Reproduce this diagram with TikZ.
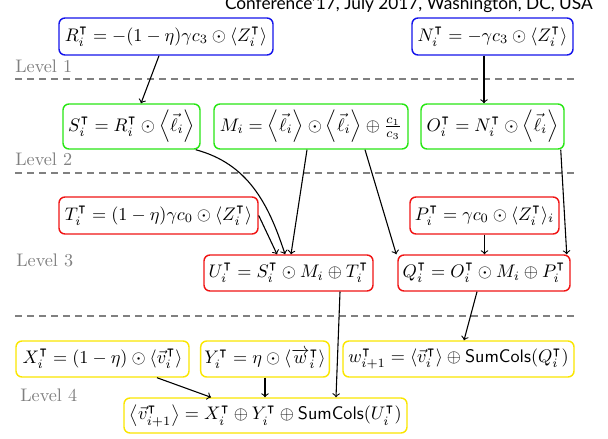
\documentclass[tikz,border=0pt]{standalone}
\usepackage{amsmath,amssymb}
\usepackage{fontspec}
\newfontfamily\hdrfont{Lato}
\usetikzlibrary{calc}
\newcommand{\pxu}{0.55pt}
\definecolor{lvlgrey}{RGB}{128,128,128}
\definecolor{boxblue}{RGB}{20,20,235}
\definecolor{boxgreen}{RGB}{40,230,20}
\definecolor{boxred}{RGB}{240,20,20}
\definecolor{boxyellow}{RGB}{250,230,0}
\tikzset{
  eqbox/.style={rectangle, rounded corners=3.3pt, draw=#1, fill=white, line width=0.8pt, inner sep=2pt},
  lvl/.style={font=\normalsize, text=lvlgrey, inner sep=0pt, anchor=west},
  sep/.style={draw=lvlgrey, line width=1pt, dash pattern=on 4pt off 2.6pt},
  arr/.style={->, line width=0.6pt, draw=black},
  hdr/.style={font=\hdrfont\fontsize{9.5}{11}\selectfont, inner sep=0pt},
}
\begin{document}
\begin{tikzpicture}[x=\pxu,y=-\pxu]
  \useasboundingbox (0,0) rectangle (608,438);
  \node[hdr,anchor=base east] (conf) at (593,10) {Conference’17, July 2017, Washington, DC, USA};
  % level 1
  \node[eqbox=boxblue,minimum width=214*\pxu,minimum height=37*\pxu] (R) at (166,36.5) {$R_i^{\intercal} = -(1-\eta)\gamma c_3 \odot \langle Z_i^{\intercal} \rangle$};
  \node[eqbox=boxblue,minimum width=161*\pxu,minimum height=37*\pxu] (N) at (492.5,36.5) {$N_i^{\intercal} = -\gamma c_3 \odot \langle Z_i^{\intercal} \rangle$};
  \node[lvl] (lv1) at (15,66) {Level 1};
  \draw[sep] (15,79) -- (577,79);
  % level 2
  \node[eqbox=boxgreen,minimum width=137*\pxu,minimum height=45*\pxu] (S) at (131.5,126.5) {$S_i^{\intercal} = R_i^{\intercal} \odot \left\langle \vec{\ell}_i \right\rangle$};
  \node[eqbox=boxgreen,minimum width=194*\pxu,minimum height=45*\pxu] (M) at (311,126.5) {$M_i = \left\langle \vec{\ell}_i \right\rangle \odot \left\langle \vec{\ell}_i \right\rangle \oplus \frac{c_1}{c_3}$};
  \node[eqbox=boxgreen,minimum width=143*\pxu,minimum height=45*\pxu] (O) at (492.5,126.5) {$O_i^{\intercal} = N_i^{\intercal} \odot \left\langle \vec{\ell}_i \right\rangle$};
  \node[lvl] (lv2) at (15,159.5) {Level 2};
  \draw[sep] (15,173) -- (577,173);
  % level 3
  \node[eqbox=boxred,minimum width=199*\pxu,minimum height=37*\pxu] (T) at (158.5,215.5) {$T_i^{\intercal} = (1-\eta)\gamma c_0 \odot \langle Z_i^{\intercal} \rangle$};
  \node[eqbox=boxred,minimum width=149*\pxu,minimum height=37*\pxu] (P) at (484.5,215.5) {$P_i^{\intercal} = \gamma c_0 \odot \langle Z_i^{\intercal} \rangle_i$};
  \node[eqbox=boxred,minimum width=169*\pxu,minimum height=36*\pxu] (U) at (288.5,273) {$U_i^{\intercal} = S_i^{\intercal} \odot M_i \oplus T_i^{\intercal}$};
  \node[eqbox=boxred,minimum width=172*\pxu,minimum height=36*\pxu] (Q) at (484,273) {$Q_i^{\intercal} = O_i^{\intercal} \odot M_i \oplus P_i^{\intercal}$};
  \node[lvl] (lv3) at (16,260) {Level 3};
  \draw[sep] (15,316) -- (577,316);
  % level 4
  \node[eqbox=boxyellow,minimum width=173*\pxu,minimum height=36*\pxu] (X) at (102.5,359) {$X_i^{\intercal} = (1-\eta) \odot \langle \vec{v}_i^{\intercal} \rangle$};
  \node[eqbox=boxyellow,minimum width=128*\pxu,minimum height=36*\pxu] (Y) at (265,359) {$Y_i^{\intercal} = \eta \odot \langle \overrightarrow{w}_i^{\intercal} \rangle$};
  \node[eqbox=boxyellow,minimum width=231*\pxu,minimum height=36*\pxu] (W) at (458.5,359) {$w_{i+1}^{\intercal} = \langle \vec{v}_i^{\intercal} \rangle \oplus \mathsf{SumCols}(Q_i^{\intercal})$};
  \node[eqbox=boxyellow,minimum width=283*\pxu,minimum height=35*\pxu] (V) at (265.5,415.5) {$\left\langle \vec{v}_{i+1}^{\intercal} \right\rangle = X_i^{\intercal} \oplus Y_i^{\intercal} \oplus \mathsf{SumCols}(U_i^{\intercal})$};
  \node[lvl] (lv4) at (20,395.5) {Level 4};
  % connectors
  \draw[arr] ($(R.south)+(-7,0)$) -- ($(S.north)+(9.5,0)$);
  \draw[arr] ($(N.south)+(-8.5,0)$) -- ($(O.north)+(-8.5,0)$);
  \draw[arr] ($(S.south east)+(-5,0)$) to[out=-15,in=108] ($(U.north)+(-3.5,0)$);
  \draw[arr] ($(M.south)+(-4,0)$) -- ($(U.north)+(2.5,0)$);
  \draw[arr] ($(M.south)+(54,0)$) -- ($(Q.north west)+(-1,0)$);
  \draw[arr] (T.east) -- ($(U.north)+(-11.5,0)$);
  \draw[arr] ($(O.south east)+(-4,0)$) -- ($(Q.north east)+(-4,0)$);
  \draw[arr] (P.south) -- (P.south |- Q.north);
  \draw[arr] ($(U.south)+(51.5,0)$) -- ($(V.north)+(70.5,0)$);
  \draw[arr] ($(Q.south)+(-7,0)$) -- ($(W.north)+(5.5,0)$);
  \draw[arr] ($(X.south)+(54.5,0)$) -- ($(V.north)+(-54.5,0)$);
  \draw[arr] (Y.south) -- (Y.south |- V.north);
\end{tikzpicture}
\end{document}
